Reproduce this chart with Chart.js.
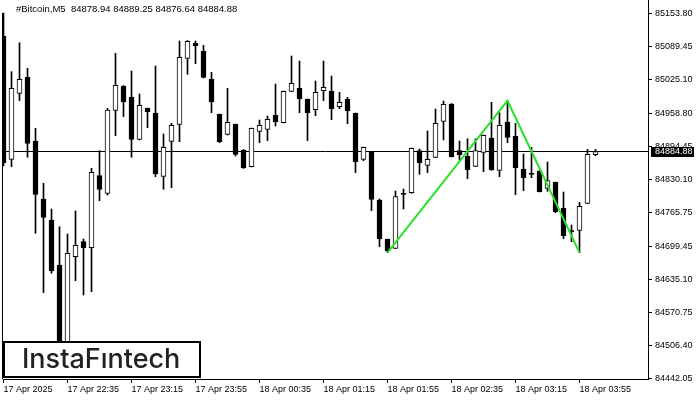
<!DOCTYPE html>
<html>
<head>
<meta charset="utf-8">
<script src="https://cdn.jsdelivr.net/npm/chart.js@4.4.1/dist/chart.umd.min.js"></script>
<style>
  html, body { margin: 0; padding: 0; background: #fff; }
  #wrap { width: 700px; height: 400px; }
</style>
</head>
<body>
<div id="wrap"><canvas id="btcChart"></canvas></div>
<script>
// #Bitcoin M5, one candle every 5 minutes from 17 Apr 21:55 to 18 Apr 04:05
var opens = [85110.81, 84869.92, 84998.87, 85030.13, 84905.67, 84792.35, 84751.32, 84663.41, 84497.34, 84679.62,
  84708.93, 84697.21, 84837.88, 84803.49, 84965.65, 85012.54, 84991.05, 84908.99, 84969.56, 84959.79,
  84836.70, 84905.09, 84938.30, 85067.25, 85097.14, 85080.92, 85026.22, 84957.84, 84918.76, 84938.30,
  84888.09, 84855.46, 84924.62, 84928.53, 84955.88, 84941.42, 85002.77, 85008.63, 84987.14, 84966.82,
  85003.95, 85003.36, 84972.69, 84987.14, 84959.79, 84869.92, 84884.77, 84790.40, 84713.62, 84696.03,
  84801.54, 84804.66, 84886.72, 84858.20, 84873.83, 84944.16, 84977.96, 84886.72, 84875.78, 84856.24,
  84883.59, 84910.95, 84848.43, 84942.21, 84914.85, 84850.38, 84841.20, 84847.06, 84813.26, 84824.98,
  84774.18, 84728.47, 84731.20, 84783.95, 84878.94];
var highs = [85155.75, 85041.07, 85097.72, 85047.71, 84930.48, 84823.03, 84772.82, 84738.23, 84723.97, 84768.91,
  84714.20, 84852.33, 84886.72, 84969.56, 85077.02, 85014.10, 85042.43, 84997.50, 84970.14, 85052.20,
  84919.35, 84940.25, 85101.05, 85102.02, 85101.05, 85092.65, 85039.89, 84958.42, 85008.63, 84938.88,
  84889.06, 84931.07, 84946.70, 84954.51, 85017.03, 85003.36, 85071.74, 85061.97, 84987.73, 85022.90,
  85061.97, 85032.66, 85000.82, 84991.05, 84960.38, 84893.95, 84885.16, 84792.35, 84714.20, 84807.98,
  84811.89, 84891.99, 84890.04, 84925.21, 84968.19, 84983.82, 84978.94, 84905.67, 84910.16, 84910.16,
  84917.39, 84981.28, 84960.96, 84984.41, 84940.25, 84880.27, 84893.36, 84847.65, 84864.64, 84825.57,
  84806.03, 84741.56, 84785.91, 84889.45, 84889.25];
var lows = [84856.83, 84855.46, 84984.41, 84873.83, 84725.34, 84609.29, 84647.19, 84466.08, 84481.71, 84632.73,
  84604.79, 84611.24, 84789.03, 84800.17, 84916.03, 84953.15, 84873.83, 84907.62, 84931.66, 84835.92,
  84811.31, 84814.43, 84904.30, 85035.99, 85056.70, 85028.76, 84960.96, 84902.35, 84917.39, 84876.36,
  84851.94, 84854.87, 84902.35, 84906.26, 84934.98, 84940.84, 85001.99, 84960.96, 84906.26, 84955.10,
  84984.41, 84947.29, 84968.78, 84939.47, 84843.74, 84867.18, 84769.49, 84699.16, 84687.44, 84695.25,
  84772.82, 84803.49, 84840.61, 84843.74, 84873.04, 84907.62, 84874.41, 84868.55, 84832.01, 84855.46,
  84845.69, 84848.43, 84835.92, 84902.35, 84800.76, 84808.57, 84833.97, 84806.03, 84807.40, 84765.59,
  84714.79, 84708.93, 84687.44, 84783.17, 84876.64];
var closes = [84862.69, 85008.63, 85026.22, 84901.18, 84801.54, 84756.60, 84652.27, 84493.43, 84686.27, 84701.90,
  84697.21, 84844.52, 84811.31, 84966.24, 85014.50, 84982.45, 84908.99, 84975.42, 84962.92, 84841.78,
  84893.36, 84936.35, 85069.20, 85100.46, 85091.86, 85030.13, 84982.45, 84904.30, 84942.21, 84879.69,
  84853.51, 84930.48, 84936.35, 84948.07, 84943.38, 85002.77, 85018.40, 84988.31, 84960.96, 85000.82,
  85010.59, 84968.78, 84981.28, 84964.87, 84865.23, 84893.36, 84791.77, 84714.79, 84691.34, 84796.85,
  84802.12, 84891.41, 84863.28, 84869.92, 84940.25, 84977.37, 84875.00, 84878.90, 84849.60, 84886.72,
  84916.81, 84849.01, 84936.35, 84912.90, 84853.51, 84833.97, 84840.61, 84806.62, 84828.11, 84767.54,
  84720.65, 84729.25, 84778.09, 84879.69, 84884.88];

// time axis labels (bar index -> label)
var tickIndex = [0, 8, 16, 24, 32, 40, 48, 56, 64, 72];
var tickLabels = ['17 Apr 2025', '17 Apr 22:35', '17 Apr 23:15', '17 Apr 23:55', '18 Apr 00:35',
  '18 Apr 01:15', '18 Apr 01:55', '18 Apr 02:35', '18 Apr 03:15', '18 Apr 03:55'];

// price axis labels
var priceTicks = [85153.80, 85089.45, 85025.10, 84958.80, 84894.45, 84830.10,
  84765.75, 84699.45, 84635.10, 84570.75, 84506.40, 84442.05];

// double bottom pattern line: bar index and price
var patternIdx = [48, 63, 72];
var patternVal = [84687.44, 84984.41, 84687.44];

var header = '#Bitcoin,M5  84878.94 84889.25 84876.64 84884.88';

var axisFont = { family: 'Liberation Sans', size: 9 };

var wicks = opens.map(function (o, i) { return { x: i, y: [lows[i], highs[i]] }; });
var bodies = opens.map(function (o, i) { return { x: i, y: [o, closes[i]] }; });
var bodyFill = opens.map(function (o, i) {
  var c = closes[i];
  if (Math.abs(c - o) < 2) return '#000';
  return c > o ? '#fff' : '#000';
});
var pattern = patternIdx.map(function (x, i) { return { x: x, y: patternVal[i] }; });

var overlay = {
  id: 'overlay',
  beforeDatasetsDraw: function (chart) {
    var ctx = chart.ctx, a = chart.chartArea;
    var py = Math.round(chart.scales.y.getPixelForValue(closes[closes.length - 1])) - 0.5;
    ctx.save();
    ctx.strokeStyle = '#000';
    ctx.lineWidth = 1;
    ctx.beginPath();
    ctx.moveTo(a.left, py);
    ctx.lineTo(a.right, py);
    ctx.stroke();
    ctx.restore();
  },
  afterDraw: function (chart) {
    var ctx = chart.ctx, a = chart.chartArea;
    var last = closes[closes.length - 1];
    var py = Math.round(chart.scales.y.getPixelForValue(last)) - 1;
    ctx.save();
    // left frame
    ctx.fillStyle = '#000';
    ctx.fillRect(a.left - 1, 13, 1, a.bottom - 13);
    // current price tag
    ctx.fillRect(a.right + 3, py - 4, 43, 10);
    ctx.fillStyle = '#fff';
    ctx.font = '9px "Liberation Sans"';
    ctx.textBaseline = 'middle';
    ctx.textAlign = 'left';
    ctx.fillText(last.toFixed(2), a.right + 7, py + 1);
    // header
    ctx.fillStyle = '#000';
    ctx.font = '9.5px "Liberation Sans"';
    ctx.fillText(header, 16, 9);
    // logo
    ctx.fillStyle = '#fff';
    ctx.fillRect(4, 342, 196, 35);
    ctx.strokeStyle = '#000';
    ctx.lineWidth = 2;
    ctx.strokeRect(4, 342, 196, 35);
    ctx.fillStyle = '#222';
    ctx.font = '500 27px Inter';
    ctx.textBaseline = 'alphabetic';
    ctx.fillText('InstaF\u0131ntech', 22, 368);
    ctx.restore();
  }
};

var ctx = document.getElementById('btcChart').getContext('2d');
var btcChart = new Chart(ctx, {
  type: 'bar',
  data: {
    datasets: [{
      label: 'Pattern',
      type: 'line',
      data: pattern,
      borderColor: 'rgb(40, 225, 40)',
      borderWidth: 2,
      pointRadius: 0,
      fill: false,
      order: 1
    }, {
      label: 'Body',
      data: bodies,
      backgroundColor: bodyFill,
      borderColor: '#000',
      borderWidth: 1,
      borderSkipped: false,
      barThickness: 5,
      minBarLength: 1,
      grouped: false,
      order: 2
    }, {
      label: 'Wick',
      data: wicks,
      backgroundColor: '#000',
      borderWidth: 0,
      barThickness: 1,
      grouped: false,
      order: 3
    }]
  },
  options: {
    responsive: true,
    maintainAspectRatio: false,
    animation: false,
    layout: { padding: { left: 3, right: 0, top: 0, bottom: 0 } },
    plugins: {
      legend: { display: false },
      tooltip: { enabled: false }
    },
    scales: {
      x: {
        type: 'linear',
        offset: false,
        min: -0.0625,
        max: 80.5625,
        afterBuildTicks: function (scale) {
          scale.ticks = tickIndex.map(function (v) { return { value: v }; });
        },
        afterFit: function (scale) {
          scale.height = 21;
          scale.paddingLeft = 0;
          scale.paddingRight = 0;
        },
        ticks: {
          autoSkip: false,
          maxRotation: 0,
          align: 'start',
          padding: 1,
          color: '#000',
          font: axisFont,
          callback: function (v) {
            var k = tickIndex.indexOf(v);
            return k >= 0 ? tickLabels[k] : '';
          }
        },
        grid: { offset: false, drawOnChartArea: false, tickLength: 4, color: '#000' },
        border: { display: true, color: '#000' }
      },
      y: {
        type: 'linear',
        position: 'right',
        min: 84440.67,
        max: 85181.15,
        afterBuildTicks: function (scale) {
          scale.ticks = priceTicks.map(function (v) { return { value: v }; });
        },
        afterFit: function (scale) {
          scale.width = 52;
          scale.paddingTop = 0;
          scale.paddingBottom = 0;
        },
        ticks: {
          padding: 3,
          color: '#000',
          font: axisFont,
          callback: function (v) { return v.toFixed(2); }
        },
        grid: { drawOnChartArea: false, tickLength: 4, color: '#000' },
        border: { display: true, color: '#000' }
      }
    }
  },
  plugins: [overlay]
});
</script>
</body>
</html>
